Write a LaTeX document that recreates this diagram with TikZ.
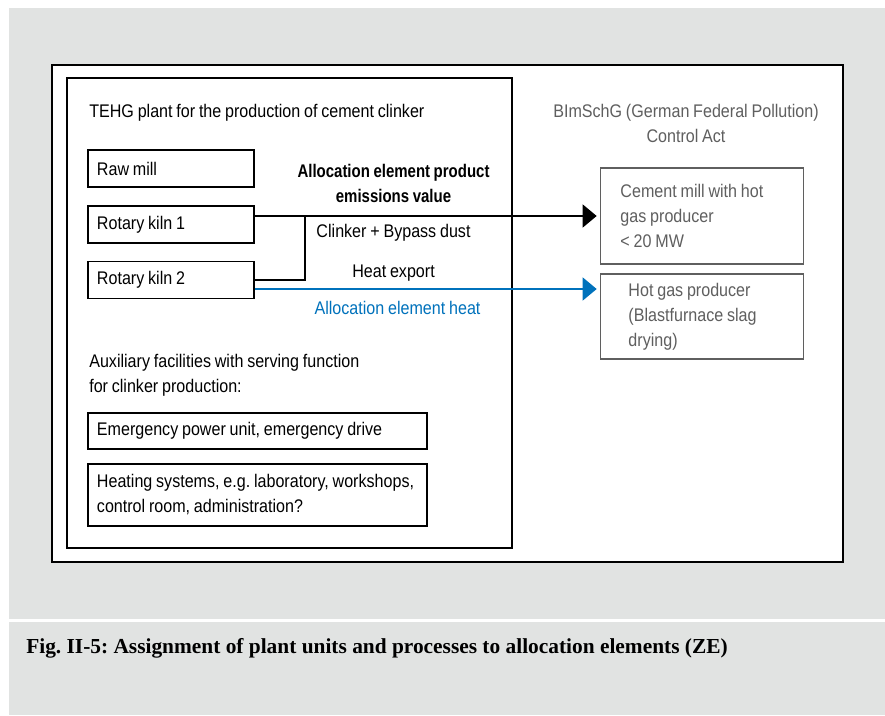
\documentclass[tikz,border=0pt]{standalone}
\usepackage{fontspec}
\setmainfont{Liberation Sans}[FakeStretch=0.88,WordSpace=0.85,BoldFeatures={FakeStretch=0.82}]
\newfontfamily\capfont{Liberation Serif}
\usepackage{tikz}
\usetikzlibrary{
	arrows.meta,
	positioning
}
\frenchspacing
\definecolor{bggray}{RGB}{225,227,226}
\definecolor{heatblue}{RGB}{0,114,188}
\definecolor{actgray}{RGB}{95,95,95}
\tikzset{
  % frame
	cstframe/.style   ={line width=1.5pt},
  % arrow
	cstline/.style    ={line width=1.5pt},
	cstra/.style      ={-{Triangle[length=0.35cm,width=0.57cm]}, line width=1.5pt, shorten >=0.08cm},
	cstheat/.style    ={-{Triangle[length=0.35cm,width=0.57cm]}, line width=1.3pt, heatblue, shorten >=0.08cm},
  % node
	cstunit/.style    ={draw=black, fill=white, line width=0.9pt, align=flush left, inner xsep=0.225cm, inner ysep=0pt},
	cstact/.style     ={draw=actgray, fill=white, line width=0.8pt, align=flush left, inner ysep=0pt, text=actgray},
	csttext/.style    ={inner sep=0pt}
}

\begin{document}
\begin{tikzpicture}[x=0.025cm,y=-0.025cm]
	\fontsize{13pt}{17.8pt}\selectfont
	\useasboundingbox (0,0) rectangle (885,715);
	% background
	\fill[bggray] (9,8) rectangle (885,619);
	\fill[bggray] (9,622) rectangle (885,715);
	\draw[cstframe,fill=white] (52,65) rectangle (843,562);
	\draw[cstframe] (67,78) rectangle (512,548);
	% TEHG plant
	\node[csttext,anchor=base west] (tehg) at (89,118) {TEHG plant for the production of cement clinker};
	\node[cstunit,text width=3.7cm,minimum height=0.925cm] (raw) at (171,168.5) {Raw mill};
	\node[cstunit,text width=3.7cm,minimum height=0.925cm] (kiln1) at (171,224.5) {Rotary kiln 1};
	\node[cstunit,text width=3.7cm,minimum height=0.925cm] (kiln2) at (171,280) {Rotary kiln 2};
	\node[csttext,anchor=north west,align=left] (aux) at (89,354)
		{Auxiliary facilities with serving function\\for clinker production:};
	\node[cstunit,text width=8.025cm,minimum height=0.9cm] (power) at (257.5,431)
		{Emergency power unit, emergency drive};
	\node[cstunit,text width=8.025cm,minimum height=1.55cm] (heating) at (257.5,495)
		{Heating systems, e.g. laboratory, workshops,\\control room, administration?};
	% BImSchG
	\node[csttext,anchor=north,align=center,text=actgray] (act) at (686,104)
		{BImSchG (German Federal Pollution)\\Control Act};
	\node[cstact,inner xsep=0.5cm,text width=4.075cm,minimum height=2.4cm] (cmill) at (702,216)
		{Cement mill with hot\\gas producer\\< 20 MW};
	\node[cstact,inner xsep=0.7cm,text width=3.675cm,minimum height=2.125cm] (hotgas) at (702,316.5)
		{Hot gas producer\\(Blastfurnace slag\\drying)};
	% allocation elements
	\node[csttext,anchor=north,align=center,font=\bfseries] (prod) at (393.5,164)
		{Allocation element product\\emissions value};
	\node[csttext,anchor=base] (clinker) at (393.5,237) {Clinker + Bypass dust};
	\node[csttext,anchor=base] (heatexp) at (393.5,277) {Heat export};
	\node[csttext,anchor=base,text=heatblue] (heat) at (397.5,314) {Allocation element heat};
	\coordinate (joint) at (305,216);
	\coordinate (heatout) at ([yshift=-0.225cm]kiln2.east);
	\draw[cstline] (kiln2.east) -| (joint);
	\draw[cstra] (kiln1.east |- cmill.west) -- (cmill.west);
	\draw[cstheat] (heatout) -- (heatout -| hotgas.west);
	% caption
	\node[csttext,anchor=base west,font=\capfont\bfseries\fontsize{15.2pt}{18pt}\selectfont] (caption) at (26,653)
		{Fig. II-5: Assignment of plant units and processes to allocation elements (ZE)};
\end{tikzpicture}
\end{document}
